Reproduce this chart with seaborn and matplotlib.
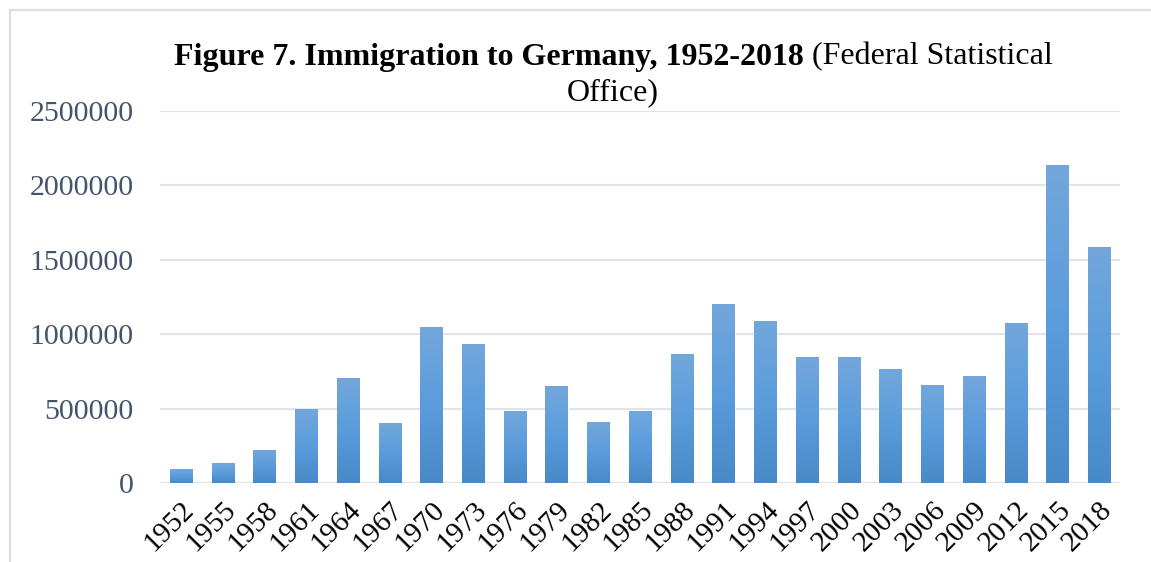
import numpy as np
import pandas as pd
import matplotlib
matplotlib.use("Agg")
import matplotlib.pyplot as plt
import seaborn as sns
from matplotlib.colors import LinearSegmentedColormap
from matplotlib.lines import Line2D

years = ["1952", "1955", "1958", "1961", "1964", "1967", "1970", "1973", "1976",
         "1979", "1982", "1985", "1988", "1991", "1994", "1997", "2000", "2003",
         "2006", "2009", "2012", "2015", "2018"]
immigrants = [94000, 134000, 222000, 497000, 706000, 403000, 1048000, 934000, 482000,
              650000, 408000, 482000, 865000, 1200000, 1087000, 845000, 845000, 767000,
              659000, 720000, 1078000, 2137000, 1584000]
yticks = [0, 500000, 1000000, 1500000, 2000000, 2500000]

sns.set_theme(style="white")
plt.rcParams['font.family'] = ['Liberation Serif', 'DejaVu Serif']

W, H = 1151, 562
fig = plt.figure(figsize=(W / 100, H / 100), dpi=100)
ax = fig.add_axes([160 / W, 1 - 483 / H, 960 / W, 372 / H])

df = pd.DataFrame({"year": years, "value": immigrants})
sns.barplot(data=df, x="year", y="value", color="#5b9bd5", width=0.53,
            saturation=1, ax=ax, zorder=3)

ax.set_ylim(0, 2500000)
ax.set_xlim(-0.5, len(years) - 0.5)
ax.set_yticks(yticks)
ax.set_yticklabels([str(v) for v in yticks], fontsize=21.5, color="#44546A")
ax.set_xticks(range(len(years)))
ax.set_xticklabels(years, fontsize=21, color="black", rotation=45,
                   ha="right", rotation_mode="anchor")
ax.tick_params(axis="y", length=0, pad=19)
ax.tick_params(axis="x", length=0, pad=10)
ax.set_xlabel("")
ax.set_ylabel("")
for s in ax.spines.values():
    s.set_visible(False)
ax.yaxis.grid(True, color="#dfe3ea", linewidth=1.6, zorder=0)
ax.xaxis.grid(False)
ax.set_axisbelow(True)

# gradient fill for bars
cmap = LinearSegmentedColormap.from_list("g", ["#4889c7", "#5a9cdc", "#73a7db"])
grad = np.linspace(0, 1, 256).reshape(-1, 1)
for p in ax.patches:
    x0, y0 = p.get_x(), p.get_y()
    w, h = p.get_width(), p.get_height()
    im = ax.imshow(grad, cmap=cmap, aspect="auto", origin="lower",
                   extent=[x0, x0 + w, y0, y0 + h], zorder=4)
    im.set_clip_path(p)
ax.set_xlim(-0.5, len(years) - 0.5)
ax.set_ylim(0, 2500000)

# light border (top and left)
fig.add_artist(Line2D([9.5 / W, 9.5 / W], [0, 1 - 9.5 / H], color="#dadee6", lw=1.6,
                      transform=fig.transFigure))
fig.add_artist(Line2D([9.5 / W, 1], [1 - 9.5 / H, 1 - 9.5 / H], color="#dadee6", lw=1.6,
                      transform=fig.transFigure))

# title with mixed weight
fig.canvas.draw()
r = fig.canvas.get_renderer()
bold_txt = "Figure 7. Immigration to Germany, 1952-2018"
reg_txt = " (Federal Statistical"
tsize = 23
tb = fig.text(0, 0, bold_txt, fontsize=tsize, fontweight="bold", color="black")
tr = fig.text(0, 0, reg_txt, fontsize=tsize, color="black")
wb = tb.get_window_extent(r).width
wr = tr.get_window_extent(r).width
cx = 613
y1 = 1 - 57 / H
x_start = cx - (wb + wr) / 2
tb.set_position((x_start / W, y1))
tb.set_va("center")
tr.set_position(((x_start + wb) / W, y1))
tr.set_va("center")
fig.text(cx / W, 1 - 93 / H, "Office)", fontsize=tsize, ha="center", va="center",
         color="black")

fig.savefig("out.png", dpi=100)
